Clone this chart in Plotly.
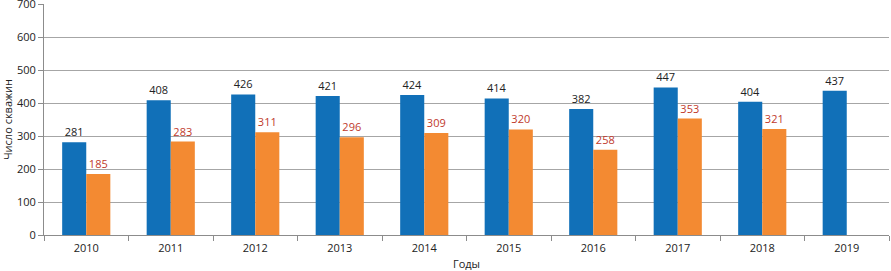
import plotly.graph_objects as go

years = ["2010", "2011", "2012", "2013", "2014", "2015", "2016", "2017", "2018", "2019"]
series_a = [281, 408, 426, 421, 424, 414, 382, 447, 404, 437]
series_b = [185, 283, 311, 296, 309, 320, 258, 353, 321, None]
y_ticks = [0, 100, 200, 300, 400, 500, 600, 700]

blue = "#1170b8"
orange = "#f38a32"

fig = go.Figure()
fig.add_trace(go.Bar(
    x=years, y=series_a, marker=dict(color=blue, line=dict(width=0)),
    text=[str(v) for v in series_a], textposition="outside", cliponaxis=False,
    textfont=dict(color="#222222", size=11), showlegend=False, hoverinfo="skip",
))
fig.add_trace(go.Bar(
    x=years, y=series_b, marker=dict(color=orange, line=dict(width=0)),
    text=[str(v) if v is not None else "" for v in series_b], textposition="outside", cliponaxis=False,
    textfont=dict(color="#c0392b", size=11), showlegend=False, hoverinfo="skip",
))

fig.update_layout(
    width=891, height=271,
    margin=dict(l=44, r=2, t=4, b=36, autoexpand=False),
    paper_bgcolor="white", plot_bgcolor="white",
    barmode="group", bargap=0.43, bargroupgap=0,
    font=dict(family="Open Sans, DejaVu Sans, sans-serif", size=11, color="#222222"),
)
fig.update_yaxes(
    range=[0, 700], tickvals=y_ticks, showgrid=True, gridcolor="#a6a6a6", gridwidth=1,
    showline=True, linecolor="#8c8c8c", ticks="outside", ticklen=5, tickcolor="#8c8c8c",
    zeroline=False, tickfont=dict(size=11), automargin=False, ticklabeloverflow="allow",
    title=dict(text="Число скважин", font=dict(size=11), standoff=8),
)
fig.update_xaxes(
    showline=True, linecolor="#8c8c8c", ticks="outside", ticklen=5, tickcolor="#8c8c8c",
    tickson="boundaries", showgrid=False, tickfont=dict(size=11), automargin=False,
    ticklabelstandoff=3,
    title=dict(text="Годы", font=dict(size=11), standoff=8),
)

fig.write_html(
    "out.html",
    config={"displayModeBar": False},
    post_script="document.body.style.margin='0';document.body.style.overflow='hidden';",
)
